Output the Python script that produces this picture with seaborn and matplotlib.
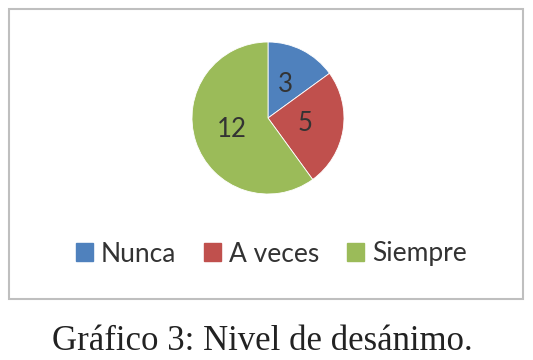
import matplotlib
matplotlib.use("Agg")
import matplotlib.pyplot as plt
import matplotlib.patches as mpatches
import seaborn as sns

# Datos del gráfico
categorias = ["Nunca", "A veces", "Siempre"]
valores = [3, 5, 12]
colores = ["#4F81BD", "#C0504D", "#9BBB59"]
titulo = "Gráfico 3: Nivel de desánimo."

W, H = 533, 360

sns.set_theme(style="white")
plt.rcParams['font.family'] = ['Lato', 'DejaVu Sans']

fig = plt.figure(figsize=(W / 100, H / 100), dpi=100)
fig.patch.set_facecolor("white")

# Marco del gráfico
marco = mpatches.Rectangle((9 / W, 1 - 299 / H), (523 - 9) / W, (299 - 9) / H,
                           transform=fig.transFigure, fill=False,
                           edgecolor="#BFBFBF", linewidth=1.5)
fig.patches.append(marco)

# Pastel
cx, cy, r = 268, 118, 76
ax = fig.add_axes([(cx - r) / W, 1 - (cy + r) / H, 2 * r / W, 2 * r / H])
total = sum(valores)
wedges, textos, autotextos = ax.pie(
    valores, colors=colores, startangle=90, counterclock=False,
    autopct=lambda p: f"{round(p * total / 100):d}", pctdistance=0.5,
    wedgeprops=dict(linewidth=0.6, edgecolor="white"),
    textprops=dict(fontsize=18.5, color="#333333"))
ax.set_xlim(-1, 1)
ax.set_ylim(-1, 1)
ax.set_aspect("equal")
ax.axis("off")

# Leyenda
handles = [mpatches.Patch(color=c, label=l) for c, l in zip(colores, categorias)]
fig.legend(handles=handles, loc="center", bbox_to_anchor=(271 / W, 1 - 254 / H),
           ncol=3, frameon=False, fontsize=19, handlelength=0.65, handleheight=0.65,
           handletextpad=0.3, columnspacing=1.05, labelcolor="#333333")

# Título inferior
fig.text(262 / W, 10 / H, titulo, ha="center", va="baseline",
         family=["Liberation Serif", "DejaVu Serif"], fontsize=25, color="#222222")

fig.savefig("out.png", dpi=100)
